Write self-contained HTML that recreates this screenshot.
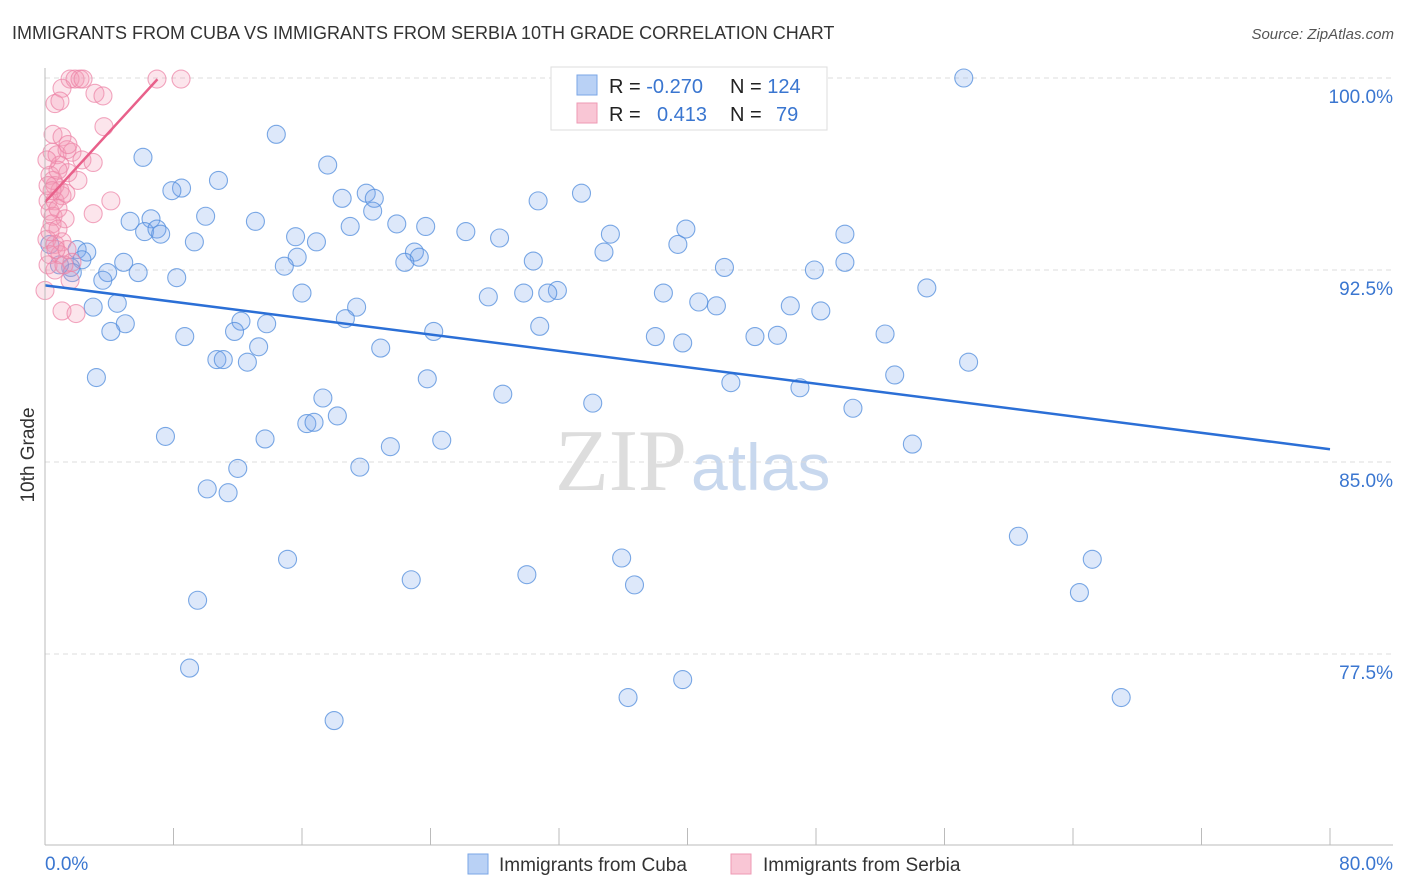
<!DOCTYPE html>
<html><head><meta charset="utf-8"><style>
body{margin:0;background:#fff;font-family:"Liberation Sans",sans-serif;}
svg{display:block}
</style></head><body>
<svg id="chart" width="1406" height="892" viewBox="0 0 1406 892">
<text x="12" y="39" font-size="18" fill="#333">IMMIGRANTS FROM CUBA VS IMMIGRANTS FROM SERBIA 10TH GRADE CORRELATION CHART</text>
<text x="1394" y="39" font-size="15" fill="#555" text-anchor="end" font-style="italic">Source: ZipAtlas.com</text>
<text x="555" y="490" font-size="88" font-family="Liberation Serif,serif" fill="#ddd">ZIP<tspan dx="4" fill="#c8d8ee" font-family="Liberation Sans,sans-serif" font-size="66">atlas</tspan></text>
<text transform="translate(34,455) rotate(-90)" font-size="19" fill="#333" text-anchor="middle">10th Grade</text>
<g id="grid"></g><g id="blue"></g><g id="pink"></g><g id="lines"></g>
<line x1="45" y1="845" x2="1393" y2="845" stroke="#bbb"/>
<line x1="45" y1="68" x2="45" y2="845" stroke="#bbb"/>
<text x="45" y="870" font-size="19" fill="#3a76d0">0.0%</text>
<text x="1393" y="870" font-size="19" fill="#3a76d0" text-anchor="end">80.0%</text>
<g>
<rect x="551" y="67" width="276" height="63" fill="#fff" stroke="#ddd"/>
<rect x="577" y="75" width="20" height="20" fill="#b9d1f5" stroke="#7aa6e6"/>
<rect x="577" y="103" width="20" height="20" fill="#f9c6d5" stroke="#ee9ab4"/>
<text x="609" y="93" font-size="20" fill="#222">R = <tspan fill="#3a76d0">-0.270</tspan><tspan x="730">N = </tspan><tspan fill="#3a76d0">124</tspan></text>
<text x="609" y="121" font-size="20" fill="#222">R = <tspan x="657" fill="#3a76d0">0.413</tspan><tspan x="730">N = </tspan><tspan x="776" fill="#3a76d0">79</tspan></text>
</g>
<g><rect x="468" y="854" width="20" height="20" fill="#b9d1f5" stroke="#7aa6e6"/><text x="499" y="871" font-size="19" fill="#333">Immigrants from Cuba</text></g>
<g><rect x="731" y="854" width="20" height="20" fill="#f9c6d5" stroke="#ee9ab4"/><text x="763" y="871" font-size="19" fill="#333">Immigrants from Serbia</text></g>
</svg>
<script>
const yTicks=[100,92.5,85,77.5];
const xTicks=[0,8,16,24,32,40,48,56,64,72,80];
const cubaX=[57.2,14.4,6.1,17.6,10.8,8.5,7.9,20.0,33.4,18.5,20.5,30.7,20.4,10.0,5.3,6.6,13.1,21.9,23.7,19.0,6.2,6.97,7.2,26.2,39.9,35.2,15.6,28.3,9.3,16.9,39.4,34.8,49.8,23.0,2.0,2.6,2.3,23.3,22.4,30.4,15.7,4.9,14.9,42.3,49.8,47.9,3.9,5.8,1.6,8.2,3.6,1.7,31.9,29.8,31.3,16.0,27.6,38.5,54.9,40.7,41.8,46.4,4.5,19.4,3.0,48.3,5.0,18.7,12.2,13.8,30.8,4.1,11.8,24.2,52.3,8.7,38.0,44.2,45.6,39.7,13.3,20.9,10.7,11.1,12.6,57.5,3.2,23.8,42.7,52.9,47.0,28.5,17.3,34.1,50.3,18.2,16.3,16.75,7.5,13.7,24.7,21.5,54.0,12.0,19.6,10.1,11.4,60.6,15.1,35.9,65.2,30.0,22.8,36.7,64.4,9.5,9.0,39.7,36.3,67.0,18.0,0.3,0.9];
const cubaY=[100.0,97.8,96.9,96.6,96.0,95.7,95.6,95.5,95.5,95.3,95.3,95.2,94.8,94.6,94.4,94.5,94.4,94.3,94.2,94.2,94.0,94.1,93.9,94.0,94.1,93.9,93.8,93.75,93.6,93.6,93.5,93.2,93.9,93.2,93.3,93.2,92.9,93.0,92.8,92.85,93.0,92.8,92.65,92.6,92.8,92.5,92.4,92.4,92.6,92.2,92.1,92.4,91.7,91.6,91.6,91.6,91.45,91.6,91.8,91.25,91.1,91.1,91.2,91.05,91.05,90.9,90.4,90.6,90.5,90.4,90.3,90.1,90.1,90.1,90.0,89.9,89.9,89.9,89.95,89.65,89.5,89.45,89.0,89.0,88.9,88.9,88.3,88.25,88.1,88.4,87.9,87.65,87.5,87.3,87.1,86.8,86.5,86.55,86.0,85.9,85.85,85.6,85.7,84.75,84.8,83.95,83.8,82.1,81.2,81.25,81.2,80.6,80.4,80.2,79.9,79.6,76.95,76.5,75.8,75.8,74.9,93.5,92.7];
const serbiaX=[1.56,1.87,2.18,2.37,6.97,8.47,1.06,0.62,0.93,3.11,3.61,3.67,0.5,1.06,0.44,0.75,1.37,1.68,2.3,3.0,2.05,0.93,1.43,0.31,0.62,0.93,0.19,0.62,1.06,0.31,0.5,0.81,1.25,3.0,4.1,0.44,0.81,0.12,0.62,1.06,0.31,0.93,1.37,0.19,0.62,1.68,0,1.06,1.93,1.56,0.5,0.81,0.19,1.3,1.43,0.12,0.44,0.68,1.18,0.31];
const serbiaY=[99.96,99.96,99.96,99.96,99.96,99.96,99.6,99.0,99.1,99.4,99.3,98.1,97.8,97.7,97.1,97.0,97.2,97.1,96.8,96.7,96.0,96.6,96.3,96.2,95.8,95.6,95.2,95.2,95.4,94.8,94.6,94.9,94.5,94.7,95.2,94.3,94.1,93.7,93.5,93.6,93.1,93.1,93.3,92.7,92.5,92.8,91.7,90.9,90.8,92.1,96.0,96.4,95.8,95.5,97.4,96.8,95.6,93.3,92.7,94.0];
const cubaTrend=[91.9,85.5];   // at x=0 and x=80
const serbiaTrend=[95.15,99.95]; // at x=0 and x=7
const NS='http://www.w3.org/2000/svg';
const sx=v=>45+v*(1285/80);
const sy=v=>78+(100-v)*25.6;
function mk(t,a,p){const e=document.createElementNS(NS,t);for(const k in a)e.setAttribute(k,a[k]);p.appendChild(e);return e;}
const grid=document.getElementById('grid');
yTicks.forEach(t=>{
 const l=mk('line',{x1:45,x2:1393,y1:sy(t),y2:sy(t),stroke:'#ddd','stroke-dasharray':'5,4'},grid);
 
 
 const tx=mk('text',{x:1393,y:sy(t)+25,'font-size':19,fill:'#3a76d0','text-anchor':'end'},grid);
 tx.textContent=t.toFixed(1)+'%';
 
 
});
xTicks.forEach(t=>{
 const l=mk('line',{x1:sx(t),x2:sx(t),y1:828,y2:845,stroke:'#bbb'},grid);
 
 
});
const gb=document.getElementById('blue');
cubaX.forEach((x,i)=>{
 const c=mk('circle',{cx:sx(x),cy:sy(cubaY[i]),r:9,fill:'rgba(120,165,235,0.25)',stroke:'rgba(80,140,220,0.75)','stroke-width':1.1},gb);
 
 
});
const gp=document.getElementById('pink');
serbiaX.forEach((x,i)=>{
 const c=mk('circle',{cx:sx(x),cy:sy(serbiaY[i]),r:9,fill:'rgba(245,150,180,0.25)',stroke:'rgba(236,130,165,0.7)','stroke-width':1.1},gp);
 
 
});
const gl=document.getElementById('lines');
const l1=mk('line',{x1:sx(0),y1:sy(cubaTrend[0]),x2:sx(80),y2:sy(cubaTrend[1]),stroke:'#2b6fd6','stroke-width':2.5},gl);


const l2=mk('line',{x1:sx(0),y1:sy(serbiaTrend[0]),x2:sx(7),y2:sy(serbiaTrend[1]),stroke:'#e8608a','stroke-width':2.5},gl);


</script>
</body></html>
